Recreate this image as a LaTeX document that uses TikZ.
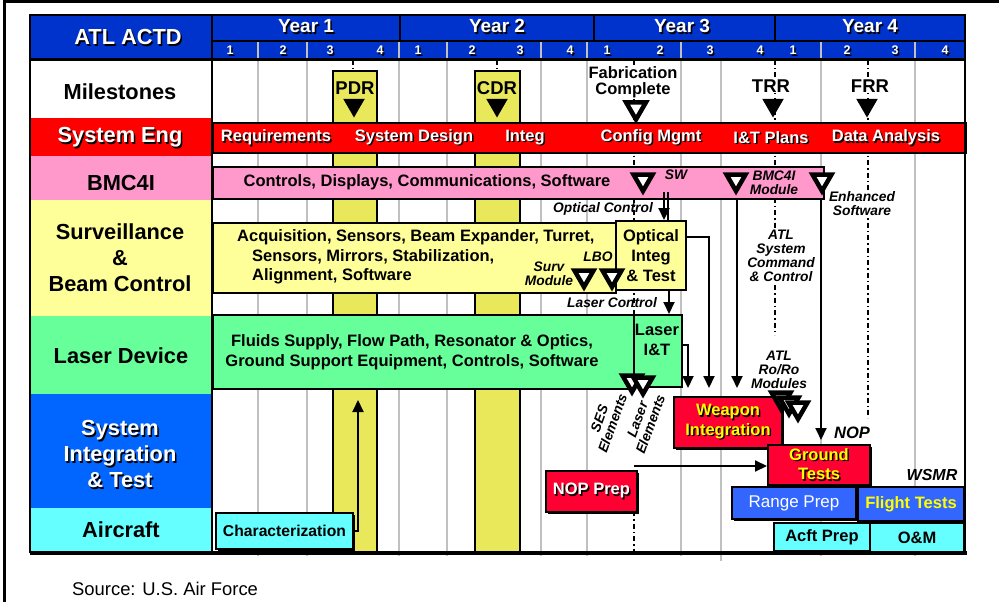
\documentclass[tikz,border=0pt]{standalone}
\usepackage{fontspec}
\setmainfont{Liberation Sans}
\usetikzlibrary{arrows.meta,shapes.geometric,shadows}
\definecolor{hdrblue}{HTML}{0033CC}
\definecolor{sysred}{HTML}{FF0000}
\definecolor{boxred}{HTML}{FF0033}
\definecolor{bmcpink}{HTML}{FF99CC}
\definecolor{survyellow}{HTML}{FFFF99}
\definecolor{pdryellow}{HTML}{E8E85A}
\definecolor{lasergreen}{HTML}{66FF99}
\definecolor{sitblue}{HTML}{0066FF}
\definecolor{rangeblue}{HTML}{3366FF}
\definecolor{acftcyan}{HTML}{66FFFF}
\definecolor{gridgray}{HTML}{C0C0C0}
\definecolor{txtyellow}{HTML}{FFFF00}
\newcommand{\shd}[2][white]{\leavevmode\rlap{\kern1.5pt\raisebox{-1.5pt}{\color{black}#2}}\textcolor{#1}{#2}}
\tikzset{%
  rowlab/.style   = {font=\bfseries\fontsize{21.8}{26}\selectfont, align=center},%
  bartxt/.style   = {font=\bfseries\fontsize{16.5}{19.5}\selectfont, align=center},%
  mtxt/.style     = {font=\bfseries\fontsize{18.5}{20}\selectfont, align=center, inner sep=1pt},%
  note/.style     = {font=\bfseries\itshape\fontsize{13.8}{14}\selectfont, align=center, inner sep=1pt},%
  bar/.style      = {draw, line width=2pt, anchor=north west, inner sep=0pt},%
  sbox/.style     = {bar, drop shadow={shadow xshift=2pt, shadow yshift=-2pt, fill=black, opacity=1}},%
  mstone/.style   = {regular polygon, regular polygon sides=3, shape border rotate=180,%
                     fill=black, inner sep=0pt, minimum size=25pt},%
  hollow/.style   = {mstone, fill=white, draw, line width=4.5pt, minimum size=22pt},%
  link/.style     = {line width=2pt, -{Triangle[length=12pt,width=11pt]}},%
  gridline/.style = {gridgray, line width=2pt},%
  mline/.style    = {line width=1.5pt, dash pattern=on 5pt off 3pt on 1.5pt off 3pt}%
}

\begin{document}
\begin{tikzpicture}[x=1pt,y=-1pt]
\useasboundingbox (0,0) rectangle (999,602);
\draw[line width=3pt] (4,602) -- (4,1.5) -- (999,1.5);
% label column
\fill[hdrblue] (30,15) rectangle (965,60);
\fill[sysred] (30,118) rectangle (212,156);
\fill[bmcpink] (30,156) rectangle (212,200);
\fill[survyellow] (30,200) rectangle (212,316);
\fill[lasergreen] (30,316) rectangle (212,394);
\fill[sitblue] (30,394) rectangle (212,508);
\fill[acftcyan] (30,508) rectangle (212,552);
% quarters
\foreach \x in {258,307,399,447,541,587,681,821,915}
  \draw[gridline] (\x,60) -- (\x,556);
\draw[gridline] (721,60) -- (721,561);
\foreach \x in {258,307,399,447,541,587,681,821,915}
  \draw[gridgray, line width=1.5pt] (\x,41) -- (\x,60);
\foreach \x in {400,594,775}
  \draw[line width=2pt] (\x,15) -- (\x,41);
\draw[line width=2pt] (212,41) -- (965,41);
\draw[line width=3pt] (30,60) -- (965,60);
\foreach \x/\y in {306/1,497/2,682/3,870/4}
  \node[font=\bfseries\fontsize{19}{20}\selectfont] (yr\y) at (\x,27) {\shd{Year \y}};
\foreach \x/\q in {230/1,283/2,330/3,380/4,418/1,472/2,520/3,570/4,%
                   607/1,660/2,710/3,760/4,793/1,847/2,895/3,945/4}
  \node[font=\bfseries\fontsize{12.5}{13}\selectfont, inner sep=0pt] at (\x,51) {\shd{\q}};
% milestone lines
\draw[mline] (353,60) -- (353,71);
\draw[mline] (497,60) -- (497,71);
\draw[mline] (634,60) -- (634,314);
\draw[mline] (634,511) -- (634,552);
\draw[mline] (775,60) -- (775,335);
\draw[mline] (868,60) -- (868,418);
\draw[line width=2pt, fill=pdryellow] (333,552) -- (333,71) -- (377,71) -- (377,552);
\draw[line width=2pt, fill=pdryellow] (475,552) -- (475,71) -- (520,71) -- (520,552);
% row labels
\node[rowlab] (actd) at (128,38) {\shd{ATL ACTD}};
\node[rowlab] (mil) at (120,92) {Milestones};
\node[rowlab] (seng) at (120,138) {\shd{System Eng}};
\node[rowlab] (bmc) at (121,183) {BMC4I};
\node[rowlab] (surv) at (120,258) {Surveillance\\\&\\Beam Control};
\node[rowlab] (ldev) at (121,356) {Laser Device};
\node[rowlab] (sit) at (120,455) {\shd{System}\\\shd{Integration}\\\shd{\& Test}};
\node[rowlab] (acft) at (121,530) {Aircraft};
% milestones
\node[mtxt] (pdr) at (355,88) {PDR};
\node[mstone] (pdrm) at (354,105) {};
\node[mtxt] (cdr) at (497,88) {CDR};
\node[mstone] (cdrm) at (497,105) {};
\node[mtxt, fill=white, font=\bfseries\fontsize{16.5}{16}\selectfont] (fab) at (633,82) {Fabrication\\Complete};
\node[hollow, minimum size=23pt] (fabm) at (636,108) {};
\node[mtxt, fill=white] (trr) at (771,86) {TRR};
\node[mstone] (trrm) at (773,105) {};
\node[mtxt, fill=white] (frr) at (870,86) {FRR};
\node[mstone] (frrm) at (867,105) {};
% bars
\node[bar, fill=sysred, minimum width=753pt, minimum height=30pt] (sebar) at (212,122) {};
\foreach \t/\x in {Requirements/276,System Design/414,Integ/525,Config Mgmt/651,{I\&T Plans}/771,Data Analysis/886}
  \node[bartxt] at (\x,138) {\shd{\t}};
\node[bar, fill=bmcpink, minimum width=611pt, minimum height=32pt] (bmcbar) at (212,166) {};
\node[bartxt] at (427,182) {Controls, Displays, Communications, Software};
\node[bar, fill=survyellow, minimum width=403pt, minimum height=70pt] (survbar) at (212,222) {};
\node[bartxt, align=left, anchor=west, inner sep=0pt] at (237,257)
  {Acquisition, Sensors, Beam Expander, Turret,\\\hspace*{15pt}Sensors, Mirrors, Stabilization,\\\hspace*{15pt}Alignment, Software};
\node[bar, fill=survyellow, minimum width=70pt, minimum height=69pt] (opt) at (615,220) {};
\node[bartxt, font=\bfseries\fontsize{16.5}{20}\selectfont] at (opt) {Optical\\Integ\\\& Test};
\node[bar, fill=lasergreen, minimum width=421pt, minimum height=74pt] (lbar) at (212,314) {};
\node[bartxt] at (412,352) {Fluids Supply, Flow Path, Resonator \& Optics,\\Ground Support Equipment, Controls, Software};
\node[bar, fill=lasergreen, minimum width=48pt, minimum height=72pt] (lit) at (633,314) {};
\node[bartxt] at (657,340) {Laser\\I\&T};
% integration and test
\node[sbox, fill=boxred, minimum width=108pt, minimum height=51pt] (wpn) at (673,396) {};
\node[bartxt] at (wpn) {\shd[txtyellow]{Weapon}\\\shd[txtyellow]{Integration}};
\node[sbox, fill=boxred, minimum width=102pt, minimum height=40pt] (gt) at (767,444) {};
\node[bartxt] at (gt) {\shd[txtyellow]{Ground}\\\shd[txtyellow]{Tests}};
\node[sbox, fill=boxred, minimum width=91pt, minimum height=41pt] (nop) at (545,470) {};
\node[bartxt] at (nop) {\shd{NOP Prep}};
\node[sbox, fill=rangeblue, minimum width=124pt, minimum height=32pt] (rng) at (731,486) {};
\node[bartxt, font=\fontsize{17}{19}\selectfont, text=white] at (rng) {Range Prep};
\node[sbox, fill=rangeblue, minimum width=106pt, minimum height=34pt] (flt) at (857,486) {};
\node[bartxt, text=txtyellow] at (flt) {Flight Tests};
\node[bar, fill=acftcyan, minimum width=96pt, minimum height=28pt] (acp) at (773,522) {};
\node[bartxt] at (acp) {Acft Prep};
\node[bar, fill=acftcyan, minimum width=94pt, minimum height=29pt] (om) at (869,522) {};
\node[bartxt] at (om) {O\&M};
\node[sbox, fill=acftcyan, minimum width=137pt, minimum height=36pt] (char) at (215,512) {};
\node[bartxt, font=\bfseries\fontsize{15.7}{17}\selectfont] at (char) {Characterization};
% deliveries
\node[hollow] (sw) at (643,180) {};
\node[hollow] (bmod) at (736,180) {};
\node[hollow] (enh) at (822,180) {};
\node[hollow] (svm) at (584,276) {};
\node[hollow] (lbo) at (612,276) {};
\node[hollow] (ses) at (632,381) {};
\node[hollow] (lel) at (643,383) {};
\node[hollow] (roro1) at (781,398) {};
\node[hollow] (roro2) at (789,403) {};
\node[hollow] (roro3) at (798,408) {};
\node[note] (swl) at (676,175) {SW};
\node[note] (bmodl) at (774,183) {BMC4I\\Module};
\node[note, fill=white] (enhl) at (862,204) {Enhanced\\Software};
\node[note] (optc) at (603,209) {Optical Control};
\node[note, fill=white] (atlc) at (781,256) {ATL\\System\\Command\\\& Control};
\node[note] (lasc) at (612,303) {Laser Control};
\node[note] (svml) at (549,274) {Surv\\Module};
\node[note] (lbol) at (598,257) {LBO};
\node[note, rotate=70] (sesl) at (606,421) {SES\\Elements};
\node[note, rotate=70] (lell) at (644,422) {Laser\\Elements};
\node[note] (rorol) at (779,370) {ATL\\Ro/Ro\\Modules};
\node[note, font=\bfseries\itshape\fontsize{16.5}{17}\selectfont] (nopl) at (852,433) {NOP};
\node[note, font=\bfseries\itshape\fontsize{16}{17}\selectfont] (wsmr) at (932,475) {WSMR};
% connectors
\coordinate (swout) at (664,192);
\coordinate (w1) at (688,388);
\coordinate (w2) at (709,388);
\coordinate (w3) at (737,388);
\coordinate (g1) at (821,440);
\coordinate (chup) at (358,400);
\coordinate (nopin) at (634,466);
\draw[link] (swout) -- (swout |- opt.north);
\draw[line width=1.5pt] ([xshift=4pt]swout) -- ([xshift=4pt]swout |- opt.north);
\draw[link] ([xshift=18pt]opt.south) -- ([xshift=18pt]opt.south |- lit.north);
\draw[link] ([yshift=-17pt]opt.north east) -| (w2);
\draw[link] ([yshift=-31pt]lit.north east) -| (w1);
\draw[link] (bmcbar.south -| w3) -- (w3);
\draw[link] (bmcbar.south -| g1) -- (g1);
\draw[link] (char.east) -| (chup);
\draw[link] (nopin) -- (nopin -| gt.west);
% frame of the table
\draw[line width=2pt] (212,15) -- (212,552);
\draw[line width=2.5pt] (30,15) rectangle (965,552);
\draw[line width=4pt] (30,553) -- (967,553);
\node[anchor=west, inner sep=0pt, font=\fontsize{18.4}{20}\selectfont] (src) at (72,589) {Source: U.S. Air Force};
\end{tikzpicture}
\end{document}
